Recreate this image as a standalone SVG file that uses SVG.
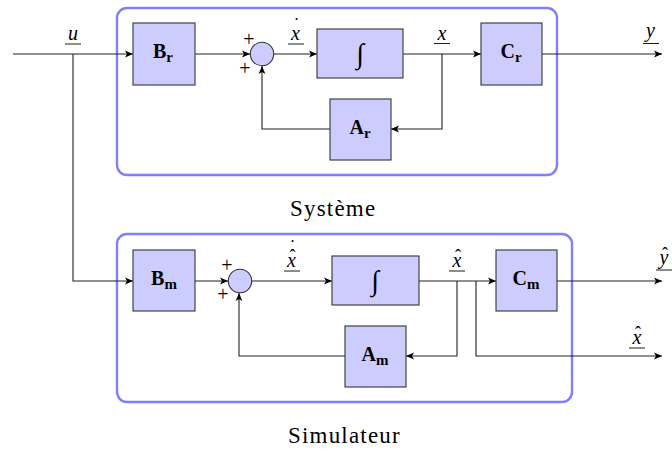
<svg xmlns="http://www.w3.org/2000/svg" width="672" height="450" viewBox="0 0 672 450">
<defs>
<marker id="ar" markerWidth="10" markerHeight="8" refX="8" refY="4" orient="auto" markerUnits="userSpaceOnUse">
<path d="M0,0.6 L8,4 L0,7.4 L2,4 Z" fill="#000"/>
</marker>
</defs>
<style>
.frame{fill:none;stroke:#8080ff;stroke-width:2.4}
.box{fill:#ccccff;stroke:#333;stroke-width:1.1}
.w{fill:none;stroke:#222;stroke-width:1.1;marker-end:url(#ar)}
.ul{stroke:#000;stroke-width:0.9}
.bl{font-family:"Liberation Serif",serif;font-weight:bold;font-size:20px;text-anchor:middle;fill:#000}
.sub{font-size:15px}
.m{font-family:"Liberation Serif",serif;font-style:italic;font-size:20px;fill:#000}
.acc{font-style:normal;font-size:18px}
.pl{font-family:"Liberation Serif",serif;font-size:20px;text-anchor:middle;fill:#000}
.cap{font-family:"Liberation Serif","Times New Roman",serif;font-size:23px;letter-spacing:1.2px;fill:#000}
.int{font-family:"Liberation Serif",serif;font-style:italic;font-size:28px;text-anchor:middle;fill:#000}
</style>

<rect class="frame" x="117" y="8" width="440" height="167" rx="10"/>
<rect class="frame" x="117" y="234" width="455" height="168" rx="10"/>

<g id="connectors">
<path class="w" d="M13 54 H133"/>
<path class="w" d="M195 54 H250"/>
<path class="w" d="M274 54 H317"/>
<path class="w" d="M403 54 H481"/>
<path class="w" d="M542 54 H662"/>
<path class="w" d="M442 54 V129 H391"/>
<path class="w" d="M330 129 H262 V66"/>
<path class="w" d="M73 54 V281 H133"/>
<path class="w" d="M195 281 H228"/>
<path class="w" d="M252 281 H332"/>
<path class="w" d="M419 281 H496"/>
<path class="w" d="M557 281 H662"/>
<path class="w" d="M457 281 V356 H406"/>
<path class="w" d="M345 356 H239 V293"/>
<path class="w" d="M476 281 V356 H662"/>
</g>

<g id="Br"><rect class="box" x="133" y="23" width="62" height="62"/><text class="bl" x="163" y="58">B<tspan class="sub" dy="4">r</tspan></text></g>
<g id="sum1"><circle class="box" cx="262" cy="54" r="11.7"/><text class="pl" x="249" y="46">+</text><text class="pl" x="245" y="75">+</text></g>
<g id="int1"><rect class="box" x="317" y="29" width="86" height="49"/><text class="int" x="360" y="63">∫</text></g>
<g id="Ar"><rect class="box" x="330" y="99" width="61" height="61"/><text class="bl" x="360" y="134">A<tspan class="sub" dy="4">r</tspan></text></g>
<g id="Cr"><rect class="box" x="481" y="23" width="61" height="62"/><text class="bl" x="511" y="58">C<tspan class="sub" dy="4">r</tspan></text></g>

<g id="Bm"><rect class="box" x="133" y="250" width="62" height="61"/><text class="bl" x="164" y="285">B<tspan class="sub" dy="4">m</tspan></text></g>
<g id="sum2"><circle class="box" cx="240" cy="281" r="11.7"/><text class="pl" x="227" y="272">+</text><text class="pl" x="223" y="301">+</text></g>
<g id="int2"><rect class="box" x="332" y="256" width="87" height="49"/><text class="int" x="375" y="290">∫</text></g>
<g id="Am"><rect class="box" x="345" y="326" width="61" height="61"/><text class="bl" x="375" y="361">A<tspan class="sub" dy="4">m</tspan></text></g>
<g id="Cm"><rect class="box" x="496" y="250" width="61" height="61"/><text class="bl" x="526" y="285">C<tspan class="sub" dy="4">m</tspan></text></g>

<g id="labels">
<text class="m" x="68" y="40">u</text><line class="ul" x1="65" y1="44" x2="81" y2="44"/>
<text class="m" x="291" y="40">x<tspan class="acc" dx="-6.4" dy="-9">˙</tspan></text><line class="ul" x1="288" y1="44" x2="304" y2="44"/>
<text class="m" x="437.5" y="40">x</text><line class="ul" x1="434" y1="43.5" x2="450" y2="43.5"/>
<text class="m" x="646" y="37">y</text><line class="ul" x1="643" y1="43.5" x2="659" y2="43.5"/>

<text class="m" x="287" y="267">x<tspan class="acc" dx="-6.4" dy="-5">ˆ</tspan><tspan class="acc" dx="-6" dy="-9">˙</tspan></text><line class="ul" x1="284" y1="271" x2="300" y2="271"/>
<text class="m" x="452.5" y="267">x<tspan class="acc" dx="-6.4" dy="-5">ˆ</tspan></text><line class="ul" x1="449" y1="271" x2="465" y2="271"/>
<text class="m" x="659.5" y="264">y<tspan class="acc" dx="-6.4" dy="-4">ˆ</tspan></text><line class="ul" x1="656" y1="270" x2="672" y2="270"/>
<text class="m" x="632.5" y="344">x<tspan class="acc" dx="-6.4" dy="-5">ˆ</tspan></text><line class="ul" x1="629" y1="348" x2="645" y2="348"/>

<text class="cap" x="290" y="216">Système</text>
<text class="cap" x="288" y="443">Simulateur</text>
</g>
</svg>
